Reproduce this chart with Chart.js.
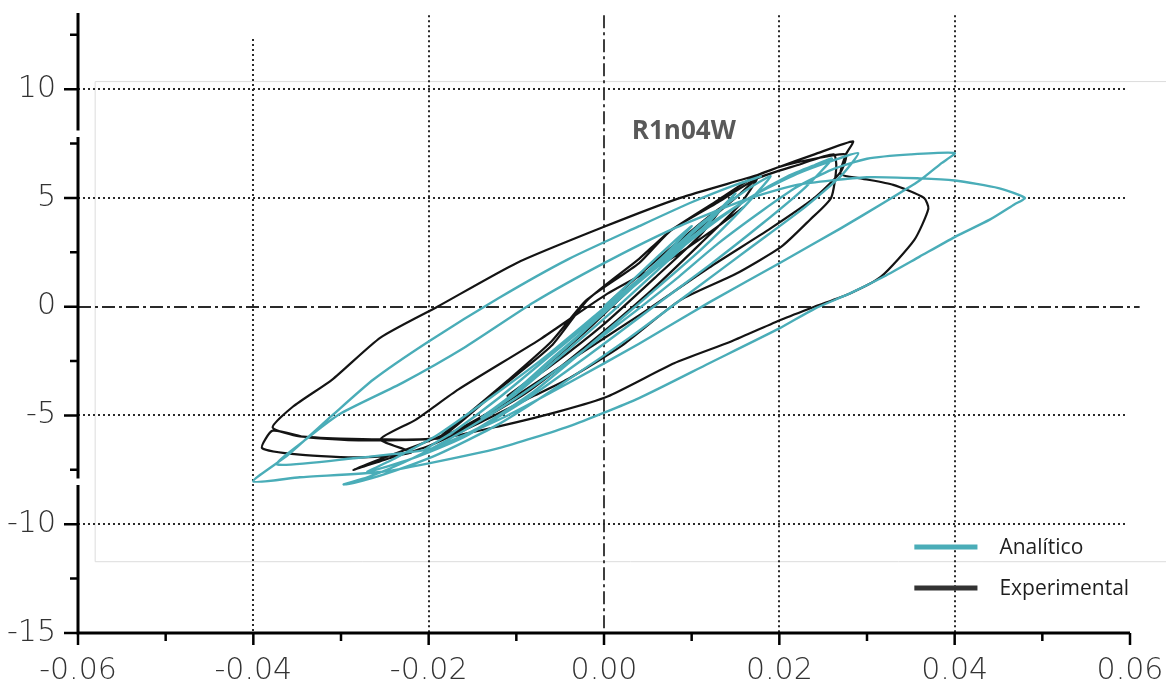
<!DOCTYPE html>
<html>
<head>
  <meta charset="utf-8">
  <title>R1n04W</title>
  <script src="https://cdn.jsdelivr.net/npm/chart.js@4.4.1/dist/chart.umd.min.js"></script>
</head>
<style>
html, body{
	margin: 0;
	padding: 0;
	background-color: #ffffff;
}
#wrap{
	width: 1166px;
	height: 683px;
}
</style>
<body>
<div id="wrap">
	<canvas id="lazo" width="1166" height="683"></canvas>
</div>

<script>
// tick labels
var xTicks = [-0.06, -0.04, -0.02, 0, 0.02, 0.04, 0.06];
var xTickLabels = ["-0.06", "-0.04", "-0.02", "0.00", "0.02", "0.04", "0.06"];
var yTicks = [-15, -10, -5, 0, 5, 10];
var yTickLabels = ["-15", "-10", "-5", "0", "5", "10"];

var seriesNames = ["Analítico", "Experimental"];
var chartTitle = "R1n04W";

// Analitico (teal) - loops read point by point, [drift, force]
var analitico = [
  [0,0],[0.004,1.5],[0.008,3.0],[0.010,3.7],
  [0.007,2.4],[0.002,0.5],[-0.003,-1.4],[-0.008,-3.2],[-0.010,-3.9],
  [-0.007,-2.8],[-0.002,-1.0],[0.004,1.2],[0.009,3.0],[0.013,4.4],[0.015,5.2],
  [0.012,3.9],[0.007,2.0],[0.001,-0.2],[-0.005,-2.3],[-0.010,-4.0],[-0.014,-5.1],
  [-0.011,-4.2],[-0.006,-2.4],[0.000,-0.3],[0.006,1.9],[0.011,3.8],[0.016,5.3],[0.019,6.0],
  [0.016,4.6],[0.011,2.6],[0.005,0.5],[-0.002,-1.9],[-0.008,-3.9],[-0.014,-5.5],[-0.018,-6.3],[-0.0205,-6.6],
  [-0.017,-5.7],[-0.012,-4.2],[-0.006,-2.2],[0.000,-0.2],[0.006,1.8],[0.012,3.7],[0.017,5.1],[0.021,6.0],[0.024,6.5],[0.026,6.8],
  [0.023,5.5],[0.018,3.8],[0.012,1.9],[0.005,-0.2],[-0.002,-2.3],[-0.009,-4.3],[-0.016,-6.0],[-0.022,-7.0],[-0.027,-7.6],
  [-0.024,-7.0],[-0.019,-5.9],[-0.013,-4.2],[-0.007,-2.4],[-0.001,-0.4],[0.005,1.6],[0.011,3.5],[0.017,5.1],[0.022,6.1],[0.026,6.7],[0.029,7.06],
  [0.027,6.0],[0.023,4.6],[0.017,2.8],[0.010,0.7],[0.003,-1.4],[-0.005,-3.6],[-0.012,-5.4],[-0.019,-6.8],[-0.025,-7.7],[-0.0285,-8.1],[-0.0297,-8.17],
  [-0.027,-7.85],[-0.022,-7.0],[-0.016,-5.7],[-0.010,-4.2],[-0.004,-2.5],[0.002,-0.7],[0.008,1.2],[0.013,2.9],[0.018,4.4],[0.022,5.5],[0.026,6.3],[0.030,6.8],[0.035,7.0],[0.040,7.06],
  [0.0385,6.6],[0.036,5.8],[0.032,4.8],[0.027,3.6],[0.020,2.0],[0.012,0.2],[0.004,-1.7],[-0.004,-3.5],[-0.011,-5.0],[-0.0165,-6.0],[-0.020,-6.56],[-0.0286,-6.97],[-0.0373,-7.25],
  [-0.034,-6.1],[-0.030,-4.9],[-0.023,-3.5],[-0.016,-1.9],[-0.008,0.2],[0.000,2.0],[0.008,3.6],[0.016,4.9],[0.022,5.6],[0.030,5.95],[0.036,5.9],[0.040,5.8],[0.045,5.45],[0.048,5.0],
  [0.0468,4.7],[0.044,4.0],[0.040,3.2],[0.036,2.3],[0.032,1.4],[0.028,0.6],[0.024,-0.1],[0.020,-1.0],[0.012,-2.6],[0.004,-4.2],[-0.004,-5.5],[-0.012,-6.5],[-0.020,-7.2],[-0.0255,-7.6],[-0.0347,-7.84],[-0.040,-8.03],
  [-0.036,-6.8],[-0.031,-5.0],[-0.0263,-3.35],[-0.020,-1.6],[-0.012,0.4],[-0.004,2.2],[0.004,3.7],[0.010,4.8],[0.015,5.6],[0.018,6.0]
];

// Experimental (black)
var experimental = [
  [0,0],[0.005,1.8],[0.010,3.5],[0.0135,4.6],
  [0.011,3.3],[0.006,1.4],[0.000,-0.8],[-0.006,-2.7],[-0.011,-4.1],
  [-0.008,-3.2],[-0.002,-1.1],[0.004,1.2],[0.010,3.3],[0.015,5.0],[0.0175,5.9],
  [0.0155,4.7],[0.011,2.9],[0.005,0.6],[-0.002,-1.8],[-0.009,-4.0],[-0.015,-5.4],[-0.0187,-6.0],
  [-0.016,-5.1],[-0.011,-3.4],[-0.006,-1.6],[-0.002,0.3],[0.004,2.0],[0.0076,3.5],[0.013,4.8],[0.0175,5.9],[0.022,6.5],[0.0262,7.0],
  [0.0265,6.4],[0.0259,5.0],[0.0235,4.0],[0.0202,2.75],[0.015,1.5],[0.0087,0.3],[0.002,-1.8],[-0.004,-3.3],[-0.008,-4.1],[-0.014,-5.3],[-0.020,-6.4],[-0.0255,-7.1],[-0.0286,-7.5],
  [-0.0255,-7.0],[-0.0215,-6.4],[-0.0179,-5.8],[-0.012,-3.8],[-0.006,-1.8],[-0.0019,0.3],[0.004,2.2],[0.0076,3.5],[0.013,4.9],[0.0171,5.96],[0.0198,6.4],[0.024,6.8],[0.0276,7.0],
  [0.027,6.2],[0.024,5.0],[0.019,3.6],[0.012,1.8],[0.004,-0.4],[-0.004,-2.5],[-0.012,-4.6],[-0.0187,-6.0],[-0.0255,-6.1],[-0.0347,-5.96],[-0.0378,-5.55],
  [-0.0355,-4.6],[-0.031,-3.35],[-0.0255,-1.42],[-0.019,0],[-0.010,2.0],[0,3.67],[0.0087,5.0],[0.0175,6.05],[0.0198,6.4],[0.024,7.0],[0.0284,7.6],
  [0.0276,7.0],[0.027,6.1],[0.0293,5.9],[0.033,5.6],[0.0365,5.0],[0.037,4.5],[0.0354,3.07],[0.0316,1.38],[0.028,0.6],[0.024,0],[0.0202,-0.6],[0.0145,-1.6],[0.008,-2.6],[0.0004,-4.13],[-0.005,-4.8],[-0.012,-5.5],[-0.0187,-6.05],[-0.028,-6.15],[-0.034,-6.0],[-0.0378,-5.7],[-0.039,-6.5],
  [-0.0347,-6.8],[-0.0275,-6.93],[-0.022,-6.7],[-0.0255,-6.1],[-0.0215,-5.2],[-0.0166,-3.8],[-0.0073,-1.5],[0.0004,0.6],[0.0076,2.2],[0.012,3.4],[0.016,4.6]
];

function toPoints(arr){
  var pts = [];
  for (var i = 0; i < arr.length; i++)
    pts.push({x: arr[i][0], y: arr[i][1]});
  return pts;
}

var tealColor = "#4aadb8";
var blackColor = "#141414";

// grid, axis with breaks, ticks, title and legend drawn with the scales
var decoPlugin = {
  id: "deco",
  beforeDatasetsDraw: function(chart){
    var ctx = chart.ctx;
    var xs = chart.scales.x, ys = chart.scales.y;
    ctx.save();
    // faint frame left in the scan
    ctx.strokeStyle = "#dcdcdc";
    ctx.lineWidth = 1;
    ctx.beginPath();
    ctx.moveTo(1166, ys.getPixelForValue(10.37) + 0.5);
    ctx.lineTo(xs.getPixelForValue(-0.0581) + 0.5, ys.getPixelForValue(10.37) + 0.5);
    ctx.lineTo(xs.getPixelForValue(-0.0581) + 0.5, ys.getPixelForValue(-11.7) + 0.5);
    ctx.lineTo(1166, ys.getPixelForValue(-11.7) + 0.5);
    ctx.stroke();

    // dotted grid
    ctx.strokeStyle = "#2a2a2a";
    ctx.lineWidth = 2;
    ctx.setLineDash([2, 3]);
    var vx = [-0.04, -0.02, 0.02, 0.04];
    for (var i = 0; i < vx.length; i++) {
      var px = Math.round(xs.getPixelForValue(vx[i]));
      var top = vx[i] == -0.04 ? ys.getPixelForValue(12.3) : ys.getPixelForValue(13.4);
      ctx.beginPath();
      ctx.moveTo(px, top);
      ctx.lineTo(px, ys.getPixelForValue(-15));
      ctx.stroke();
    }
    var hy = [-10, -5, 5, 10];
    for (var j = 0; j < hy.length; j++) {
      var py = Math.round(ys.getPixelForValue(hy[j]));
      ctx.beginPath();
      ctx.moveTo(xs.getPixelForValue(-0.06), py);
      ctx.lineTo(xs.getPixelForValue(0.0597), py);
      ctx.stroke();
    }
    // dash-dot zero lines
    ctx.lineWidth = 1.8;
    ctx.setLineDash([13, 4, 3, 4]);
    var x0 = Math.round(xs.getPixelForValue(0));
    ctx.beginPath();
    ctx.moveTo(x0, ys.getPixelForValue(13.4));
    ctx.lineTo(x0, ys.getPixelForValue(-15));
    ctx.stroke();
    var y0 = Math.round(ys.getPixelForValue(0));
    ctx.beginPath();
    ctx.moveTo(xs.getPixelForValue(-0.06), y0);
    ctx.lineTo(xs.getPixelForValue(0.0611), y0);
    ctx.stroke();
    ctx.restore();
  },
  afterDatasetsDraw: function(chart){
    var ctx = chart.ctx;
    var xs = chart.scales.x, ys = chart.scales.y;
    var ax = xs.getPixelForValue(-0.06), ay = ys.getPixelForValue(-15);
    ctx.save();
    ctx.strokeStyle = "#000";
    ctx.lineWidth = 3;
    ctx.setLineDash([]);
    // y axis, broken twice like the original
    ctx.beginPath();
    ctx.moveTo(ax, ys.getPixelForValue(13.5));
    ctx.lineTo(ax, ys.getPixelForValue(8.1));
    ctx.moveTo(ax, ys.getPixelForValue(7.8));
    ctx.lineTo(ax, ys.getPixelForValue(-7.9));
    ctx.moveTo(ax, ys.getPixelForValue(-8.2));
    ctx.lineTo(ax, ay + 1.5);
    // x axis
    ctx.moveTo(ax - 1.5, ay);
    ctx.lineTo(xs.getPixelForValue(0.06), ay);
    ctx.stroke();
    // ticks
    ctx.lineWidth = 2.5;
    ctx.beginPath();
    for (var v = -15; v <= 12.5; v += 2.5) {
      var py = ys.getPixelForValue(v);
      var len = (v % 5 == 0) ? 14 : 8;
      ctx.moveTo(ax - len, py);
      ctx.lineTo(ax, py);
    }
    for (var k = -6; k <= 6; k++) {
      var px = xs.getPixelForValue(k / 100);
      var l2 = (k % 2 == 0) ? 12 : 8;
      ctx.moveTo(px, ay);
      ctx.lineTo(px, ay + l2);
    }
    ctx.stroke();

    // case label
    ctx.fillStyle = "#595959";
    ctx.font = "bold 26px 'Open Sans'";
    ctx.textAlign = "center";
    ctx.textBaseline = "middle";
    ctx.fillText(chartTitle, xs.getPixelForValue(0.0091), ys.getPixelForValue(8.05));

    // legend, bottom right inside the plot
    var lx = xs.getPixelForValue(0.0354), rx = xs.getPixelForValue(0.0426);
    var tx = xs.getPixelForValue(0.0451);
    var rows = [ys.getPixelForValue(-11.05), ys.getPixelForValue(-12.93)];
    var cols = [tealColor, "#333333"];
    ctx.font = "21px 'Open Sans'";
    ctx.textAlign = "left";
    for (var r = 0; r < rows.length; r++) {
      ctx.strokeStyle = cols[r];
      ctx.lineWidth = 5;
      ctx.beginPath();
      ctx.moveTo(lx, rows[r]);
      ctx.lineTo(rx, rows[r]);
      ctx.stroke();
      ctx.fillStyle = "#1e1e1e";
      ctx.fillText(seriesNames[r], tx, rows[r] + 1);
    }
    ctx.restore();
  }
};

var lazoData = {
  datasets: [
    {
      label: seriesNames[0],
      data: toPoints(analitico),
      borderColor: tealColor,
      borderWidth: 2.4,
      showLine: true,
      pointRadius: 0,
      tension: 0.2,
      order: 0
    },
    {
      label: seriesNames[1],
      data: toPoints(experimental),
      borderColor: blackColor,
      borderWidth: 2.2,
      showLine: true,
      pointRadius: 0,
      tension: 0.2,
      order: 1
    }
  ]
};

var tickFont = {family: "'DejaVu Sans'", size: 30, weight: "200"};

var options = {
  responsive: false,
  animation: false,
  layout: {padding: {top: 13, right: 36, left: 0, bottom: 0}},
  plugins: {
    legend: {display: false},
    tooltip: {enabled: false},
    title: {display: false}
  },
  scales: {
    x: {
      type: "linear",
      min: -0.06,
      max: 0.06,
      grid: {display: false},
      border: {display: false},
      afterBuildTicks: function(scale){
        scale.ticks = xTicks.map(function(v){ return {value: v}; });
      },
      afterFit: function(scale){
        scale.height = 50;
        scale.paddingLeft = 0;
        scale.paddingRight = 0;
      },
      ticks: {
        font: tickFont,
        color: "#333333",
        padding: 12,
        maxRotation: 0,
        autoSkip: false,
        callback: function(value){
          var i = xTicks.indexOf(value);
          return i >= 0 ? xTickLabels[i] : "";
        }
      }
    },
    y: {
      type: "linear",
      min: -15,
      max: 13.5,
      grid: {display: false},
      border: {display: false},
      afterBuildTicks: function(scale){
        scale.ticks = yTicks.map(function(v){ return {value: v}; });
      },
      afterFit: function(scale){
        scale.width = 78;
        scale.paddingTop = 0;
        scale.paddingBottom = 0;
      },
      ticks: {
        font: tickFont,
        color: "#333333",
        padding: 14,
        autoSkip: false,
        callback: function(value){
          var i = yTicks.indexOf(value);
          return i >= 0 ? yTickLabels[i] : "";
        }
      }
    }
  }
};

var lazo = new Chart(document.getElementById("lazo").getContext("2d"), {
  type: "scatter",
  data: lazoData,
  options: options,
  plugins: [decoPlugin]
});
</script>
</body>
</html>
